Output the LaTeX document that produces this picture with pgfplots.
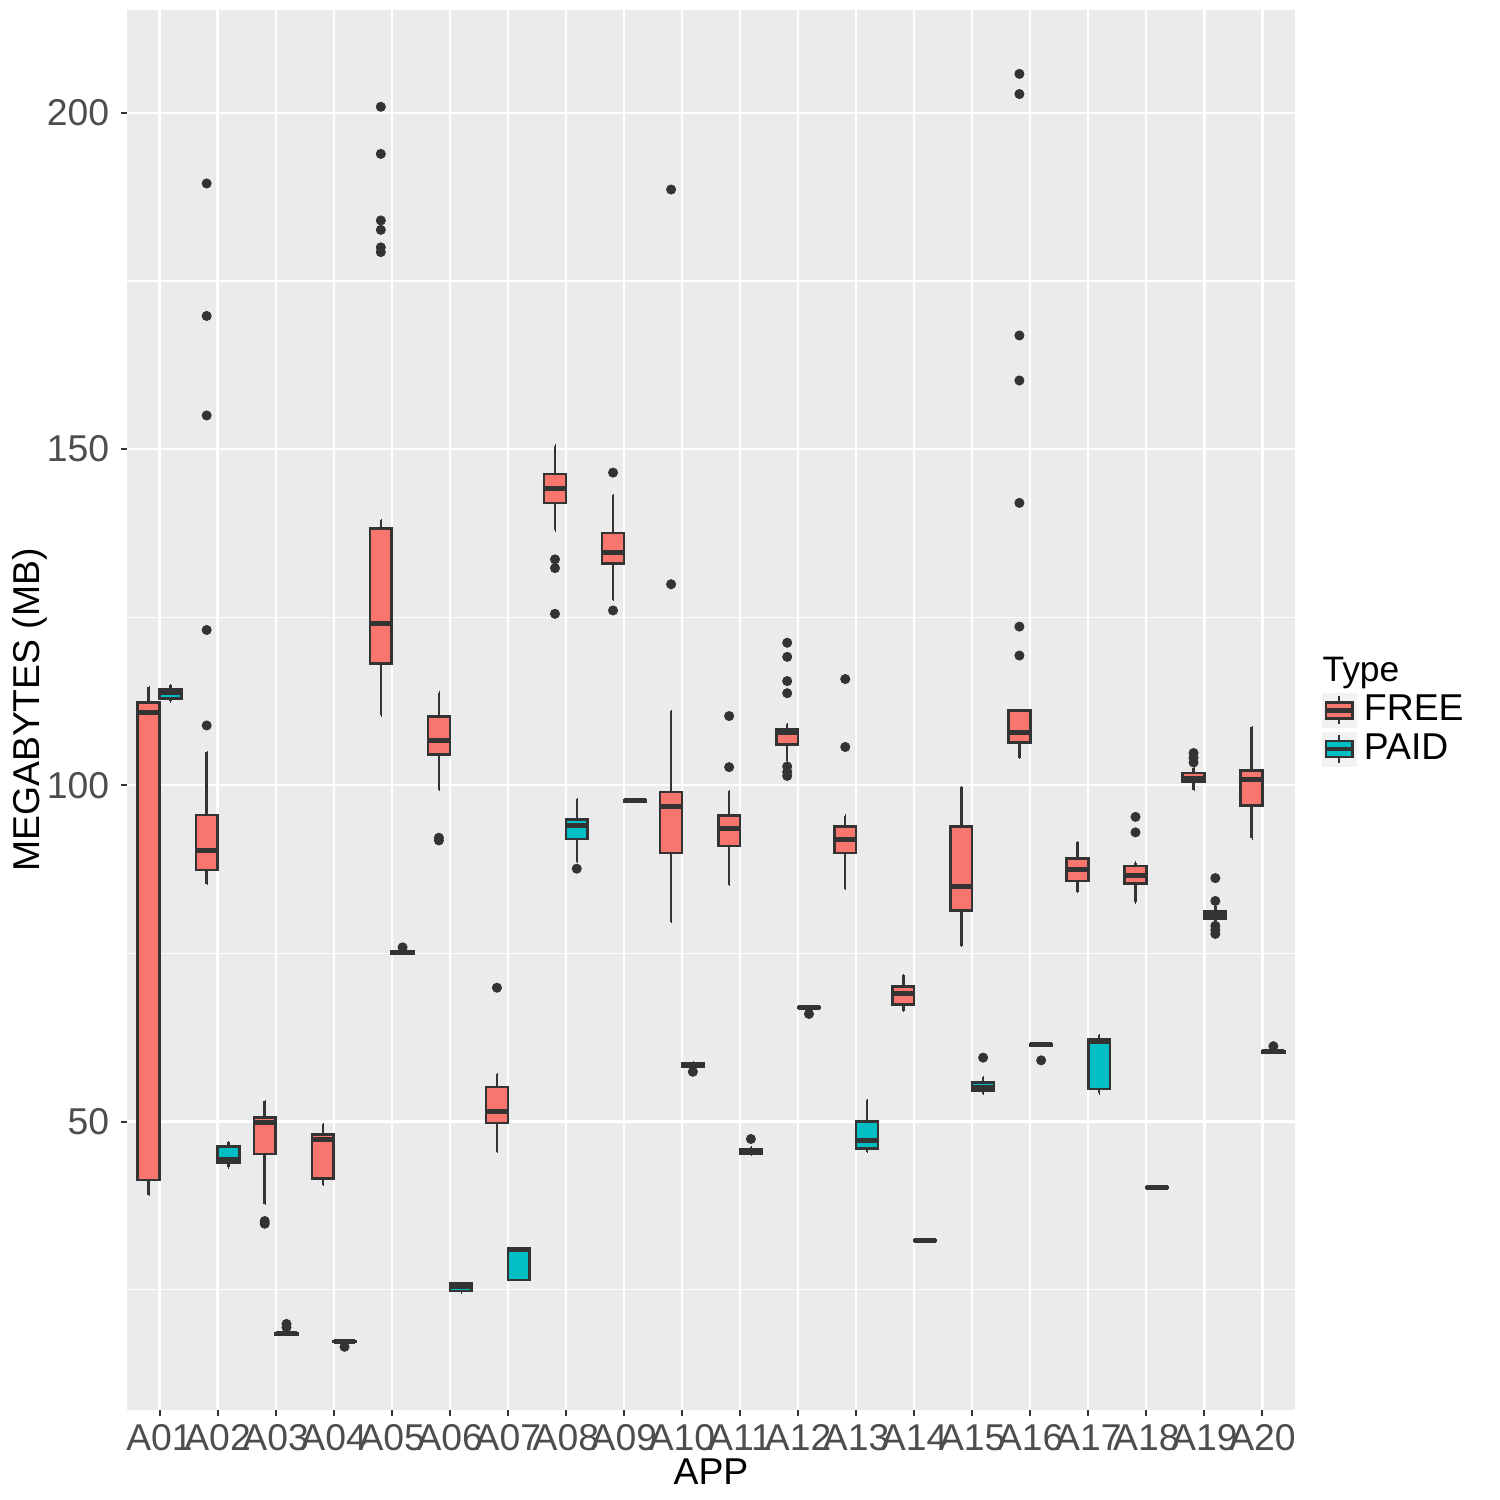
\documentclass[border=0pt]{standalone}
\usepackage{pgfplots}
\pgfplotsset{compat=1.18}
\usepgfplotslibrary{statistics}
\usepackage{fontspec}
\setmainfont{Liberation Sans}
\definecolor{freec}{HTML}{F8766D}
\definecolor{paidc}{HTML}{00BFC4}
\definecolor{panelbg}{HTML}{EBEBEB}
\definecolor{boxline}{HTML}{333333}
\definecolor{tickgray}{HTML}{4D4D4D}
\definecolor{keybg}{HTML}{F2F2F2}
\pgfplotsset{
  fb/.style={draw=boxline, line width=0.75pt, fill=freec,
    mark=*, mark size=1.35pt, mark options={draw=boxline, fill=boxline, line width=0.3pt}},
  pb/.style={draw=boxline, line width=0.75pt, fill=paidc,
    mark=*, mark size=1.35pt, mark options={draw=boxline, fill=boxline, line width=0.3pt}},
}
\begin{document}
\begin{tikzpicture}
\begin{axis}[
  scale only axis, width=350.4pt, height=420pt,
  xmin=0.44, xmax=20.56, ymin=7.1, ymax=215.3,
  axis background/.style={fill=panelbg},
  axis line style={draw=none},
  xtick={1,...,20},
  xticklabels={A01,A02,A03,A04,A05,A06,A07,A08,A09,A10,A11,A12,A13,A14,A15,A16,A17,A18,A19,A20},
  ytick={50,100,150,200}, minor ytick={25,75,125,175},
  grid=both,
  major grid style={white, line width=0.65pt},
  minor grid style={white, line width=0.35pt},
  tick align=outside, tick pos=left,
  major tick length=1.8pt, minor tick length=0pt,
  tick style={boxline, line width=0.6pt},
  ticklabel style={font=\fontsize{11.2}{13}\selectfont, text=tickgray},
  xticklabel style={yshift=1pt},
  /pgf/number format/assume math mode=true,
  xlabel={APP}, ylabel={MEGABYTES (MB)},
  every axis x label/.style={at={(axis description cs:0.5,0)}, anchor=center, yshift=-18.5pt, font=\fontsize{11.2}{13}\selectfont},
  every axis y label/.style={at={(axis description cs:-0.083,0.5)}, anchor=center, rotate=90, font=\fontsize{11.2}{13}\selectfont},
  boxplot/draw direction=y,
  boxplot/box extend=0.375,
  boxplot/whisker extend=0.001,
  boxplot/every whisker/.style={line width=0.75pt},
  boxplot/every median/.style={line width=1.5pt},
  legend style={at={(axis description cs:1.0231,0.5121)}, anchor=north west,
    draw=none, fill=none, inner sep=0pt, outer sep=0pt,
    font=\fontsize{11.2}{13}\selectfont, row sep=1.25pt, column sep=2.2pt,
    nodes={inner sep=0pt}},
  legend cell align=left,
  legend entries={FREE,PAID},
]
\addlegendimage{legend image code/.code={
  \fill[keybg] (0pt,-5pt) rectangle (10pt,5pt);
  \draw[boxline,line width=0.7pt] (5pt,-4.2pt) -- (5pt,4.2pt);
  \filldraw[fill=freec,draw=boxline,line width=0.7pt] (1pt,-2.4pt) rectangle (9pt,2.4pt);
  \draw[boxline,line width=1.3pt] (1pt,0pt) -- (9pt,0pt);}}
\addlegendimage{legend image code/.code={
  \fill[keybg] (0pt,-5pt) rectangle (10pt,5pt);
  \draw[boxline,line width=0.7pt] (5pt,-4.2pt) -- (5pt,4.2pt);
  \filldraw[fill=paidc,draw=boxline,line width=0.7pt] (1pt,-2.4pt) rectangle (9pt,2.4pt);
  \draw[boxline,line width=1.3pt] (1pt,0pt) -- (9pt,0pt);}}
\addplot[fb, boxplot prepared={draw position=0.8125, lower whisker=39.1, lower quartile=41.3, median=110.9, upper quartile=112.3, upper whisker=114.6}] coordinates {};
\addplot[pb, boxplot prepared={draw position=1.1875, lower whisker=112.5, lower quartile=112.9, median=113.8, upper quartile=114.3, upper whisker=114.9}] coordinates {};
\addplot[fb, boxplot prepared={draw position=1.8125, lower whisker=85.3, lower quartile=87.4, median=90.3, upper quartile=95.6, upper whisker=104.9}] coordinates {(0,108.9) (0,123.1) (0,155.0) (0,169.8) (0,189.5)};
\addplot[pb, boxplot prepared={draw position=2.1875, lower whisker=43.2, lower quartile=43.8, median=44.3, upper quartile=46.3, upper whisker=46.9}] coordinates {};
\addplot[fb, boxplot prepared={draw position=2.8125, lower whisker=37.8, lower quartile=45.2, median=49.8, upper quartile=50.6, upper whisker=53.0}] coordinates {(0,34.8) (0,35.2)};
\addplot[pb, boxplot prepared={draw position=3.1875, lower whisker=18.3, lower quartile=18.35, median=18.45, upper quartile=18.55, upper whisker=18.7}] coordinates {(0,19.4) (0,19.9)};
\addplot[fb, boxplot prepared={draw position=3.8125, lower whisker=40.6, lower quartile=41.5, median=47.3, upper quartile=48.1, upper whisker=49.6}] coordinates {};
\addplot[pb, boxplot prepared={draw position=4.1875, lower whisker=17.1, lower quartile=17.2, median=17.25, upper quartile=17.35, upper whisker=17.4}] coordinates {(0,16.5)};
\addplot[fb, boxplot prepared={draw position=4.8125, lower whisker=110.4, lower quartile=118.1, median=124.0, upper quartile=138.2, upper whisker=139.4}] coordinates {(0,179.3) (0,180.0) (0,182.6) (0,184.0) (0,193.9) (0,200.9)};
\addplot[pb, boxplot prepared={draw position=5.1875, lower whisker=74.9, lower quartile=75.0, median=75.1, upper quartile=75.25, upper whisker=75.4}] coordinates {(0,75.9)};
\addplot[fb, boxplot prepared={draw position=5.8125, lower whisker=99.3, lower quartile=104.6, median=106.6, upper quartile=110.2, upper whisker=113.8}] coordinates {(0,91.8) (0,92.2)};
\addplot[pb, boxplot prepared={draw position=6.1875, lower whisker=24.6, lower quartile=24.8, median=25.5, upper quartile=25.9, upper whisker=26.0}] coordinates {};
\addplot[fb, boxplot prepared={draw position=6.8125, lower whisker=45.5, lower quartile=49.8, median=51.5, upper quartile=55.1, upper whisker=57.1}] coordinates {(0,69.9)};
\addplot[pb, boxplot prepared={draw position=7.1875, lower whisker=26.4, lower quartile=26.4, median=31.0, upper quartile=31.1, upper whisker=31.1}] coordinates {};
\addplot[fb, boxplot prepared={draw position=7.8125, lower whisker=137.9, lower quartile=142.0, median=144.1, upper quartile=146.3, upper whisker=150.5}] coordinates {(0,125.5) (0,132.3) (0,133.6)};
\addplot[pb, boxplot prepared={draw position=8.1875, lower whisker=88.6, lower quartile=92.0, median=94.0, upper quartile=94.9, upper whisker=97.9}] coordinates {(0,87.6)};
\addplot[fb, boxplot prepared={draw position=8.8125, lower whisker=127.6, lower quartile=133.0, median=134.6, upper quartile=137.5, upper whisker=143.2}] coordinates {(0,126.0) (0,146.5)};
\addplot[pb, boxplot prepared={draw position=9.1875, lower whisker=97.5, lower quartile=97.6, median=97.7, upper quartile=97.8, upper whisker=97.9}] coordinates {};
\addplot[fb, boxplot prepared={draw position=9.8125, lower whisker=79.7, lower quartile=89.9, median=96.8, upper quartile=99.0, upper whisker=111.0}] coordinates {(0,129.9) (0,188.6)};
\addplot[pb, boxplot prepared={draw position=10.1875, lower whisker=58.0, lower quartile=58.2, median=58.4, upper quartile=58.6, upper whisker=58.8}] coordinates {(0,57.4)};
\addplot[fb, boxplot prepared={draw position=10.8125, lower whisker=85.2, lower quartile=91.0, median=93.6, upper quartile=95.5, upper whisker=99.1}] coordinates {(0,102.7) (0,110.3)};
\addplot[pb, boxplot prepared={draw position=11.1875, lower whisker=45.0, lower quartile=45.2, median=45.5, upper quartile=45.9, upper whisker=46.2}] coordinates {(0,47.4)};
\addplot[fb, boxplot prepared={draw position=11.8125, lower whisker=103.6, lower quartile=106.1, median=107.9, upper quartile=108.3, upper whisker=109.1}] coordinates {(0,101.4) (0,102.0) (0,102.8) (0,113.7) (0,115.5) (0,119.1) (0,121.2)};
\addplot[pb, boxplot prepared={draw position=12.1875, lower whisker=66.8, lower quartile=66.85, median=66.95, upper quartile=67.05, upper whisker=67.1}] coordinates {(0,66.0)};
\addplot[fb, boxplot prepared={draw position=12.8125, lower whisker=84.6, lower quartile=89.9, median=92.0, upper quartile=93.9, upper whisker=95.5}] coordinates {(0,105.7) (0,115.8)};
\addplot[pb, boxplot prepared={draw position=13.1875, lower whisker=45.5, lower quartile=46.0, median=47.2, upper quartile=50.0, upper whisker=53.2}] coordinates {};
\addplot[fb, boxplot prepared={draw position=13.8125, lower whisker=66.4, lower quartile=67.4, median=69.0, upper quartile=70.1, upper whisker=71.8}] coordinates {};
\addplot[pb, boxplot prepared={draw position=14.1875, lower whisker=32.2, lower quartile=32.25, median=32.3, upper quartile=32.35, upper whisker=32.4}] coordinates {};
\addplot[fb, boxplot prepared={draw position=14.8125, lower whisker=76.1, lower quartile=81.4, median=85.0, upper quartile=93.9, upper whisker=99.7}] coordinates {};
\addplot[pb, boxplot prepared={draw position=15.1875, lower whisker=54.1, lower quartile=54.6, median=55.1, upper quartile=55.8, upper whisker=56.6}] coordinates {(0,59.5)};
\addplot[fb, boxplot prepared={draw position=15.8125, lower whisker=104.1, lower quartile=106.4, median=107.9, upper quartile=111.1, upper whisker=111.1}] coordinates {(0,119.3) (0,123.6) (0,142.0) (0,160.2) (0,166.9) (0,202.8) (0,205.8)};
\addplot[pb, boxplot prepared={draw position=16.1875, lower whisker=61.2, lower quartile=61.3, median=61.4, upper quartile=61.5, upper whisker=61.6}] coordinates {(0,59.1)};
\addplot[fb, boxplot prepared={draw position=16.8125, lower whisker=84.2, lower quartile=85.8, median=87.5, upper quartile=89.1, upper whisker=91.6}] coordinates {};
\addplot[pb, boxplot prepared={draw position=17.1875, lower whisker=54.2, lower quartile=54.8, median=61.9, upper quartile=62.3, upper whisker=62.8}] coordinates {};
\addplot[fb, boxplot prepared={draw position=17.8125, lower whisker=82.6, lower quartile=85.4, median=86.6, upper quartile=88.0, upper whisker=88.5}] coordinates {(0,93.0) (0,95.3)};
\addplot[pb, boxplot prepared={draw position=18.1875, lower whisker=40.1, lower quartile=40.15, median=40.2, upper quartile=40.25, upper whisker=40.3}] coordinates {};
\addplot[fb, boxplot prepared={draw position=18.8125, lower whisker=99.3, lower quartile=100.6, median=101.0, upper quartile=101.8, upper whisker=102.6}] coordinates {(0,103.4) (0,104.1) (0,104.8)};
\addplot[pb, boxplot prepared={draw position=19.1875, lower whisker=79.8, lower quartile=80.2, median=80.8, upper quartile=81.3, upper whisker=82.0}] coordinates {(0,77.9) (0,78.5) (0,79.1) (0,82.8) (0,86.2)};
\addplot[fb, boxplot prepared={draw position=19.8125, lower whisker=92.1, lower quartile=97.0, median=100.8, upper quartile=102.2, upper whisker=108.7}] coordinates {};
\addplot[pb, boxplot prepared={draw position=20.1875, lower whisker=60.2, lower quartile=60.3, median=60.4, upper quartile=60.5, upper whisker=60.6}] coordinates {(0,61.2)};
\end{axis}
\node[anchor=base west, font=\fontsize{10.6}{13}\selectfont, inner sep=0pt] at ([xshift=8.1pt, yshift=218.5pt]current axis.south east) {Type};
\pgfresetboundingbox
\path[use as bounding box] (-38.1pt,-27pt) rectangle (411.9pt,423pt);
\end{tikzpicture}
\end{document}
